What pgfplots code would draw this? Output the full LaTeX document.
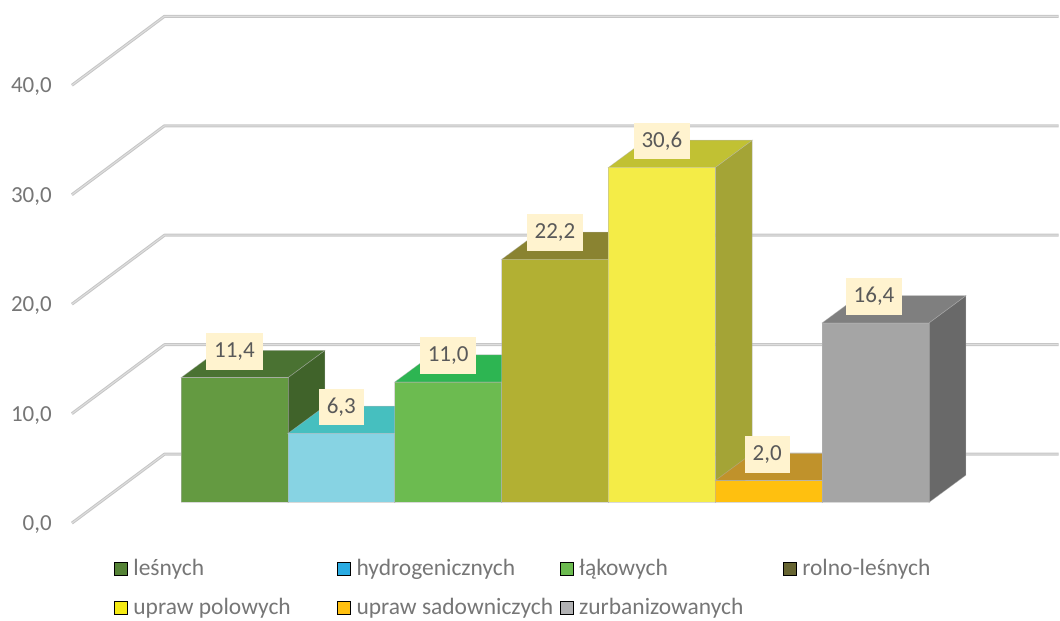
\documentclass[border=0pt]{standalone}
\usepackage{fontspec}
\setmainfont{Carlito}
\usepackage{pgfplots}
\pgfplotsset{compat=1.18}
\definecolor{tickc}{HTML}{767676}
\definecolor{lblc}{HTML}{595959}
\definecolor{legc}{HTML}{767676}
\definecolor{lblbg}{HTML}{FFF3CF}
\definecolor{gridA}{HTML}{C6C6C6}
\definecolor{gridB}{HTML}{DEDEDE}
\definecolor{edgec}{HTML}{B4B4B4}
\definecolor{aF}{RGB}{100,154,65}\definecolor{aT}{RGB}{74,114,50}\definecolor{aS}{RGB}{64,99,42}
\definecolor{bF}{RGB}{135,211,227}\definecolor{bT}{RGB}{70,191,191}\definecolor{bS}{RGB}{60,150,160}
\definecolor{cF}{RGB}{108,187,80}\definecolor{cT}{RGB}{45,181,82}\definecolor{cS}{RGB}{50,120,60}
\definecolor{dF}{RGB}{178,176,51}\definecolor{dT}{RGB}{138,131,49}\definecolor{dS}{RGB}{120,115,45}
\definecolor{eF}{RGB}{244,236,71}\definecolor{eT}{RGB}{193,193,51}\definecolor{eS}{RGB}{164,164,54}
\definecolor{fF}{RGB}{255,192,15}\definecolor{fT}{RGB}{192,146,43}\definecolor{fS}{RGB}{160,120,30}
\definecolor{gF}{RGB}{165,165,165}\definecolor{gT}{RGB}{127,127,127}\definecolor{gS}{RGB}{105,105,105}
\definecolor{la}{RGB}{84,130,53}\definecolor{lb}{RGB}{41,171,226}\definecolor{lc}{RGB}{108,187,80}
\definecolor{ld}{RGB}{102,100,49}\definecolor{le}{RGB}{245,234,20}\definecolor{lf}{RGB}{255,192,15}
\definecolor{lg}{RGB}{177,177,179}
\pgfplotsset{
  gridline/.style={forget plot,draw=gridA,line width=3pt,line join=round,mark=none},
  gridlineB/.style={forget plot,draw=gridB,line width=1pt,line join=round,mark=none},
  face/.style={forget plot,fill=#1,draw=edgec,draw opacity=0.5,line width=0.6pt,line join=miter,mark=none},
}
\begin{document}
\begin{tikzpicture}
\begin{axis}[
  scale only axis,
  width=988pt,height=621pt,
  xmin=-1.0215,xmax=8.2125,ymin=-10.75,ymax=45.90,
  clip=false,
  axis line style={draw=none},
  major tick length=0pt,
  xtick=\empty,
  ytick={-1.889,8.111,18.111,28.111,38.111},
  yticklabels={{0,0},{10,0},{20,0},{30,0},{40,0}},
  yticklabel style={font=\fontsize{23}{27}\selectfont,text=tickc,anchor=east,inner sep=0pt,xshift=-20pt,yshift=-1.5pt},
  legend columns=4,
  legend cell align=left,
  legend image code/.code={\fill[#1] (0pt,-6.5pt) rectangle (13pt,6.5pt);},
  legend style={
    at={(axis cs:-0.627,-5.2)},anchor=north west,
    draw=none,fill=none,inner sep=0pt,outer sep=0pt,
    font=\fontsize{23.5}{27}\selectfont,text=legc,
    row sep=21.5pt,
    nodes={inner sep=0pt,outer sep=0pt},
    /tikz/every even column/.style={column sep=0pt},
  },
]
\path (axis cs:-1.6945,-10.75) rectangle (axis cs:8.2125,45.90);

% gridlines
\addplot[gridline] coordinates {(-1.0215,-1.889)(-0.155,4.41)(8.2125,4.41)};
\addplot[gridline] coordinates {(-1.0215,8.111)(-0.155,14.41)(8.2125,14.41)};
\addplot[gridline] coordinates {(-1.0215,18.111)(-0.155,24.41)(8.2125,24.41)};
\addplot[gridline] coordinates {(-1.0215,28.111)(-0.155,34.41)(8.2125,34.41)};
\addplot[gridline] coordinates {(-1.0215,38.111)(-0.155,44.41)(8.2125,44.41)};
\addplot[gridlineB] coordinates {(-1.0215,-1.889)(-0.155,4.41)(8.2125,4.41)};
\addplot[gridlineB] coordinates {(-1.0215,8.111)(-0.155,14.41)(8.2125,14.41)};
\addplot[gridlineB] coordinates {(-1.0215,18.111)(-0.155,24.41)(8.2125,24.41)};
\addplot[gridlineB] coordinates {(-1.0215,28.111)(-0.155,34.41)(8.2125,34.41)};
\addplot[gridlineB] coordinates {(-1.0215,38.111)(-0.155,44.41)(8.2125,44.41)};

% lesnych 11.4
\addplot[face=aS] coordinates {(1,0)(1.346,2.49)(1.346,13.89)(1,11.4)} --cycle;
\addplot[face=aT] coordinates {(0,11.4)(1,11.4)(1.346,13.89)(0.346,13.89)} --cycle;
\addplot[face=aF] coordinates {(0,0)(1,0)(1,11.4)(0,11.4)} --cycle;
% hydrogenicznych 6.3
\addplot[face=bS] coordinates {(2,0)(2.346,2.49)(2.346,8.79)(2,6.3)} --cycle;
\addplot[face=bT] coordinates {(1,6.3)(2,6.3)(2.346,8.79)(1.346,8.79)} --cycle;
\addplot[face=bF] coordinates {(1,0)(2,0)(2,6.3)(1,6.3)} --cycle;
% lakowych 11.0
\addplot[face=cS] coordinates {(3,0)(3.346,2.49)(3.346,13.49)(3,11)} --cycle;
\addplot[face=cT] coordinates {(2,11)(3,11)(3.346,13.49)(2.346,13.49)} --cycle;
\addplot[face=cF] coordinates {(2,0)(3,0)(3,11)(2,11)} --cycle;
% rolno-lesnych 22.2
\addplot[face=dS] coordinates {(4,0)(4.346,2.49)(4.346,24.69)(4,22.2)} --cycle;
\addplot[face=dT] coordinates {(3,22.2)(4,22.2)(4.346,24.69)(3.346,24.69)} --cycle;
\addplot[face=dF] coordinates {(3,0)(4,0)(4,22.2)(3,22.2)} --cycle;
% upraw polowych 30.6
\addplot[face=eS] coordinates {(5,0)(5.346,2.49)(5.346,33.09)(5,30.6)} --cycle;
\addplot[face=eT] coordinates {(4,30.6)(5,30.6)(5.346,33.09)(4.346,33.09)} --cycle;
\addplot[face=eF] coordinates {(4,0)(5,0)(5,30.6)(4,30.6)} --cycle;
% upraw sadowniczych 2.0
\addplot[face=fS] coordinates {(6,0)(6.346,2.49)(6.346,4.49)(6,2)} --cycle;
\addplot[face=fT] coordinates {(5,2)(6,2)(6.346,4.49)(5.346,4.49)} --cycle;
\addplot[face=fF] coordinates {(5,0)(6,0)(6,2)(5,2)} --cycle;
% zurbanizowanych 16.4
\addplot[face=gS] coordinates {(7,0)(7.346,2.49)(7.346,18.89)(7,16.4)} --cycle;
\addplot[face=gT] coordinates {(6,16.4)(7,16.4)(7.346,18.89)(6.346,18.89)} --cycle;
\addplot[face=gF] coordinates {(6,0)(7,0)(7,16.4)(6,16.4)} --cycle;

% data labels
\addplot[forget plot,draw=none,mark=none,
  nodes near coords,point meta=explicit symbolic,
  nodes near coords style={fill=lblbg,text=lblc,anchor=center,yshift=26.5pt,
    font=\fontsize{23}{27}\selectfont,minimum height=37pt,inner xsep=8pt,inner ysep=0pt},
] table[meta=label] {
x y label
0.5 11.4 11,4
1.5 6.3 6,3
2.5 11.0 11,0
3.5 22.2 22,2
4.5 30.6 30,6
5.486 2.0 2,0
6.486 16.4 16,4
};

\addlegendimage{fill=la}
\addlegendentry{\makebox[210pt][l]{\hspace{6pt}leśnych}}
\addlegendimage{fill=lb}
\addlegendentry{\makebox[209.6pt][l]{\hspace{6pt}hydrogenicznych}}
\addlegendimage{fill=lc}
\addlegendentry{\makebox[210pt][l]{\hspace{6pt}łąkowych}}
\addlegendimage{fill=ld}
\addlegendentry{\makebox[203.6pt][l]{\hspace{6pt}rolno-leśnych}}
\addlegendimage{fill=le}
\addlegendentry{\makebox[210pt][l]{\hspace{6pt}upraw polowych}}
\addlegendimage{fill=lf}
\addlegendentry{\makebox[209.6pt][l]{\hspace{6pt}upraw sadowniczych}}
\addlegendimage{fill=lg}
\addlegendentry{\makebox[210pt][l]{\hspace{6pt}zurbanizowanych}}
\end{axis}
\end{tikzpicture}
\end{document}
